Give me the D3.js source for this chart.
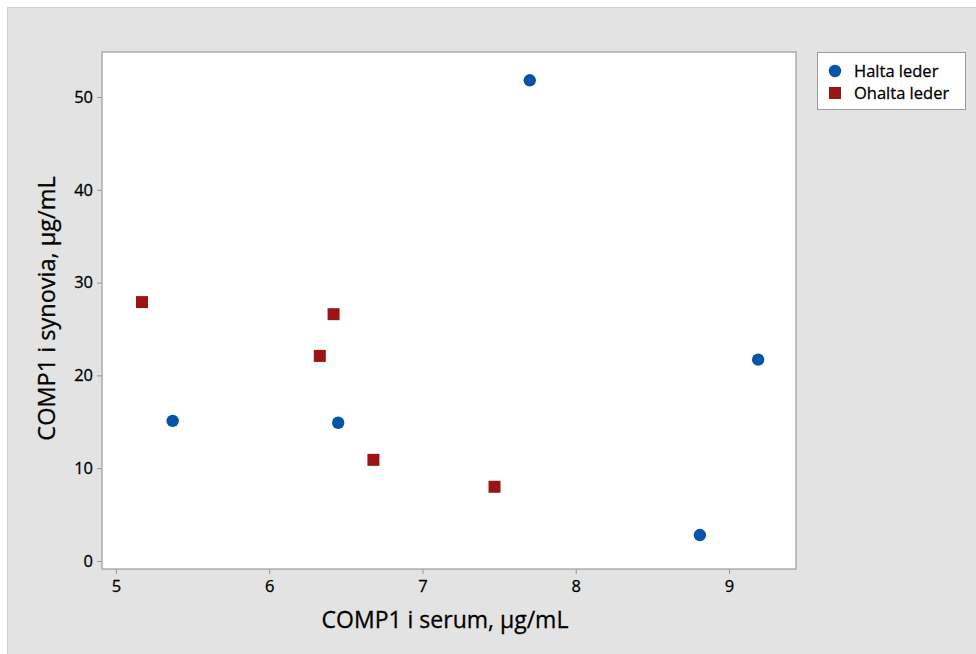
<!DOCTYPE html>
<html>
<head>
<meta charset="utf-8">
<script src="https://cdn.jsdelivr.net/npm/d3@7"></script>
<style>
  body { margin: 0; background: #fff; }
  text { font-family: "Open Sans", "Noto Sans", sans-serif; fill: #000; stroke: #000; stroke-width: 0.3px; }
</style>
</head>
<body>
<div id="chart"></div>
<script>
// series
var haltaX = [5.37, 6.45, 7.70, 8.81, 9.19];
var haltaY = [15.1, 14.9, 51.8, 2.8, 21.7];
var ohaltaX = [5.17, 6.33, 6.42, 6.68, 7.47];
var ohaltaY = [27.9, 22.1, 26.6, 10.9, 8.0];
var xTicks = [5, 6, 7, 8, 9];
var yTicks = [0, 10, 20, 30, 40, 50];
var seriesNames = ["Halta leder", "Ohalta leder"];

var W = 976, H = 654;
var plot = {left: 102, top: 52, right: 796, bottom: 569};

var svg = d3.select("#chart")
  .append("svg")
    .attr("width", W)
    .attr("height", H);

// grey figure background
svg.append("rect")
  .attr("x", 7.5).attr("y", 7.5)
  .attr("width", W).attr("height", H)
  .attr("fill", "#e3e3e3")
  .attr("stroke", "#cfcfcf");

svg.append("rect")
  .attr("x", plot.left).attr("y", plot.top)
  .attr("width", plot.right - plot.left)
  .attr("height", plot.bottom - plot.top)
  .attr("fill", "#fff")
  .attr("stroke", "#9a9a9a")
  .attr("stroke-width", 1.2);

var x = d3.scaleLinear()
  .domain([4.909, 9.437])
  .range([plot.left, plot.right]);
var y = d3.scaleLinear()
  .domain([-0.86, 54.85])
  .range([plot.bottom, plot.top]);

// axes
var xAxis = svg.append("g")
  .attr("transform", "translate(0," + plot.bottom + ")")
  .call(d3.axisBottom(x).tickValues(xTicks).tickSize(5).tickPadding(6).tickFormat(d3.format("d")));
var yAxis = svg.append("g")
  .attr("transform", "translate(" + plot.left + ",0)")
  .call(d3.axisLeft(y).tickValues(yTicks).tickSize(5).tickPadding(4).tickFormat(d3.format("d")));

[xAxis, yAxis].forEach(function(a) {
  a.select(".domain").remove();
  a.selectAll(".tick line").attr("stroke", "#9a9a9a");
  a.selectAll(".tick text")
    .style("font-size", "16.5px")
    .attr("fill", "#000");
});

// axis titles
svg.append("text")
  .attr("x", (plot.left + plot.right) / 2 - 4)
  .attr("y", 628)
  .attr("text-anchor", "middle")
  .style("font-size", "23px")
  .text("COMP1 i serum, µg/mL");

svg.append("text")
  .attr("transform", "translate(55," + ((plot.top + plot.bottom) / 2 - 2) + ") rotate(-90)")
  .attr("text-anchor", "middle")
  .style("font-size", "23.5px")
  .text("COMP1 i synovia, µg/mL");

// points
var blue = "#0455a8", red = "#9c1515";

svg.selectAll(".halta")
  .data(haltaX)
  .enter()
  .append("circle")
    .attr("class", "halta")
    .attr("cx", function(d) { return x(d); })
    .attr("cy", function(d, i) { return y(haltaY[i]); })
    .attr("r", 6.2)
    .attr("fill", blue);

var sq = 12;
svg.selectAll(".ohalta")
  .data(ohaltaX)
  .enter()
  .append("rect")
    .attr("class", "ohalta")
    .attr("x", function(d) { return x(d) - sq / 2; })
    .attr("y", function(d, i) { return y(ohaltaY[i]) - sq / 2; })
    .attr("width", sq)
    .attr("height", sq)
    .attr("fill", red);

// legend
var lg = svg.append("g");
lg.append("rect")
  .attr("x", 817.5).attr("y", 52.5)
  .attr("width", 148).attr("height", 57)
  .attr("fill", "#fff")
  .attr("stroke", "#9a9a9a");

lg.append("circle")
  .attr("cx", 835).attr("cy", 71)
  .attr("r", 6.2)
  .attr("fill", blue);
lg.append("rect")
  .attr("x", 829).attr("y", 87)
  .attr("width", sq).attr("height", sq)
  .attr("fill", red);

lg.selectAll(".lbl")
  .data(seriesNames)
  .enter()
  .append("text")
    .attr("class", "lbl")
    .attr("x", 854)
    .attr("y", function(d, i) { return 77 + i * 22; })
    .style("font-size", "16.5px")
    .text(function(d) { return d; });
</script>
</body>
</html>
